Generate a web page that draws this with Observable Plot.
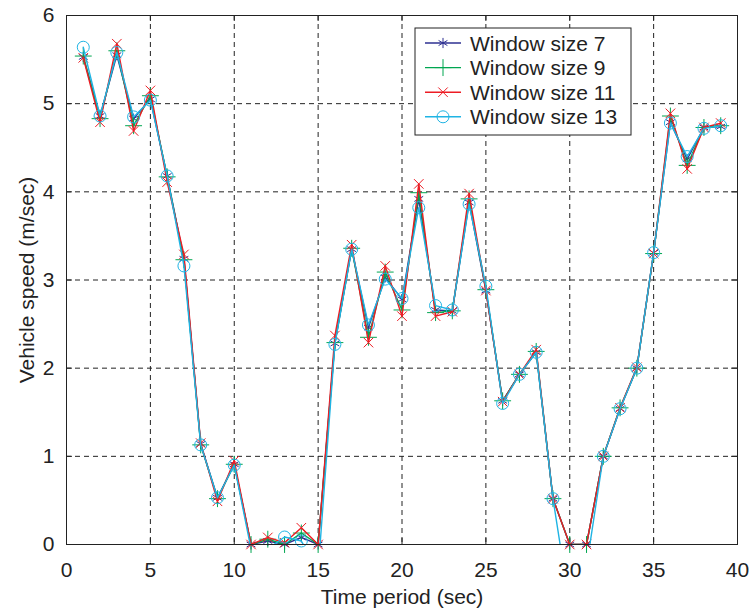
<!DOCTYPE html>
<html><head><meta charset="utf-8">
<script src="https://cdn.jsdelivr.net/npm/d3@7"></script>
<script src="https://cdn.jsdelivr.net/npm/@observablehq/plot@0.6"></script>
<style>body{margin:0;background:#fff}#chart{width:750px;height:614px}</style>
</head><body><div id="chart"></div>
<script>
const time = [1,2,3,4,5,6,7,8,9,10,11,12,13,14,15,16,17,18,19,20,21,22,23,24,25,26,27,28,29,30,31,32,33,34,35,36,37,38,39];
const w7  = [5.53,4.86,5.55,4.83,5.05,4.18,3.24,1.14,0.53,0.91,0.00,0.04,0.00,0.08,0.00,2.28,3.35,2.46,3.03,2.78,3.92,2.66,2.65,3.88,2.88,1.63,1.93,2.18,0.52,0.00,0.00,1.00,1.54,2.00,3.31,4.79,4.37,4.73,4.74];
const w9  = [5.54,4.83,5.60,4.75,5.09,4.17,3.23,1.13,0.52,0.91,0.00,0.06,0.00,0.13,0.00,2.29,3.36,2.35,3.09,2.66,3.99,2.63,2.65,3.92,2.89,1.63,1.93,2.19,0.52,0.00,0.00,1.00,1.55,2.00,3.30,4.86,4.30,4.73,4.75];
const w11 = [5.52,4.79,5.68,4.69,5.15,4.11,3.29,1.15,0.49,0.95,0.00,0.08,0.02,0.19,0.00,2.37,3.40,2.29,3.16,2.59,4.09,2.59,2.64,3.98,2.88,1.62,1.93,2.21,0.52,0.00,0.00,1.00,1.55,2.01,3.30,4.89,4.26,4.73,4.78];
const w13 = [5.64,4.86,5.58,4.85,5.04,4.18,3.16,1.13,0.53,0.90,-0.05,-0.05,0.085,0.04,-0.30,2.27,3.35,2.49,3.01,2.79,3.82,2.71,2.66,3.86,2.93,1.60,1.93,2.18,0.52,-0.70,-0.25,1.00,1.54,2.00,3.31,4.78,4.40,4.72,4.75];

const seriesNames = ["Window size 7","Window size 9","Window size 11","Window size 13"];
const seriesColors = ["#2e3192","#00a651","#ed1c24","#1fb4e4"];
const seriesSymbols = ["asterisk","plus","times","circle"];
const seriesRadius = [4.8,5.5,4.4,6];
const xTicks = [0,5,10,15,20,25,30,35,40];
const yTicks = [0,1,2,3,4,5,6];
const xLabel = "Time period (sec)";
const yLabel = "Vehicle speed (m/sec)";

const allSeries = [w7,w9,w11,w13];
const rows = [];
allSeries.forEach((vals,i)=>vals.forEach((v,j)=>rows.push({t:time[j], v, s:i})));

const W=750, H=614, mt=15, mr=13, mb=70, ml=66;
const innerH = H-mt-mb, innerW = W-ml-mr;
const ink = "#222";

const marks = [
  Plot.ruleX(xTicks.slice(1,-1), {x:d=>d, stroke:ink, strokeWidth:1, strokeDasharray:"5,4"}),
  Plot.ruleY(yTicks.slice(1,-1), {y:d=>d, stroke:ink, strokeWidth:1, strokeDasharray:"5,4"}),
  Plot.tickX(xTicks, {x:d=>d, stroke:ink, insetTop:innerH-6}),
  Plot.tickX(xTicks, {x:d=>d, stroke:ink, insetBottom:innerH-6}),
  Plot.tickY(yTicks, {y:d=>d, stroke:ink, insetRight:innerW-6}),
  Plot.tickY(yTicks, {y:d=>d, stroke:ink, insetLeft:innerW-6}),
  Plot.axisX(xTicks, {tickSize:0, tickPadding:18, label:null, tickFormat:d3.format("d")}),
  Plot.axisY(yTicks, {tickSize:0, tickPadding:12, label:null, tickFormat:d3.format("d")}),
  Plot.text([xLabel], {text:d=>d, frameAnchor:"bottom", dy:59, fill:ink}),
  Plot.text([yLabel], {text:d=>d, frameAnchor:"left", textAnchor:"middle", dx:-39, rotate:-90, fill:ink}),
];
allSeries.forEach((vals,i)=>{
  const d = rows.filter(r=>r.s===i);
  marks.push(Plot.line(d, {x:"t", y:"v", stroke:seriesColors[i], strokeWidth:1.4, clip:true}));
  marks.push(Plot.dot(d.filter(r=>r.v>=0), {x:"t", y:"v", symbol:()=>seriesSymbols[i], r:seriesRadius[i], stroke:seriesColors[i], strokeWidth:1, fill:"none"}));
});
marks.push(Plot.frame({stroke:ink, strokeWidth:1}));

const plot = Plot.plot({
  width:W, height:H, marginTop:mt, marginRight:mr, marginBottom:mb, marginLeft:ml,
  style:{fontFamily:"'Liberation Sans', Arial, sans-serif", fontSize:"21px", color:ink, background:"#fff"},
  x:{domain:[0,40]},
  y:{domain:[0,6]},
  symbol:{type:"identity"},
  marks
});
document.getElementById("chart").appendChild(plot);

// legend inside the plot area (upper middle)
const svg = d3.select(plot);
const lg = svg.append("g").attr("transform","translate(415,28)");
lg.append("rect").attr("width",216).attr("height",107).attr("fill","#fff").attr("stroke",ink).attr("stroke-width",1);
const symMap = {asterisk:d3.symbolAsterisk, plus:d3.symbolPlus, times:d3.symbolTimes, circle:d3.symbolCircle};
seriesNames.forEach((name,i)=>{
  const yy = 15 + i*24.6;
  const g = lg.append("g").attr("transform",`translate(0,${yy})`);
  g.append("line").attr("x1",10).attr("x2",46).attr("y1",0).attr("y2",0).attr("stroke",seriesColors[i]).attr("stroke-width",1.4);
  g.append("path").attr("transform","translate(28,0)")
    .attr("d", d3.symbol(symMap[seriesSymbols[i]], Math.PI*seriesRadius[i]*seriesRadius[i])())
    .attr("fill","none").attr("stroke",seriesColors[i]).attr("stroke-width",1);
  g.append("text").attr("x",55).attr("y",0).attr("dy","0.36em").attr("text-anchor","start")
    .attr("fill",ink).attr("font-size",21).text(name);
});
</script>
</body></html>
